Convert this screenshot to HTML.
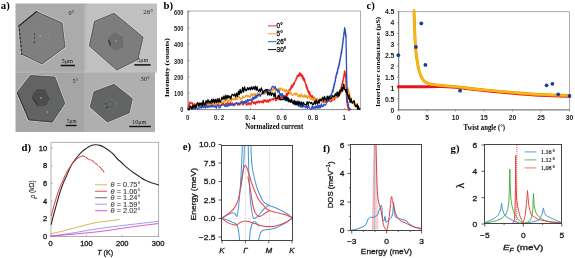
<!DOCTYPE html>
<html><head><meta charset="utf-8"><title>figure</title>
<style>
html,body{margin:0;padding:0;background:#fff;width:575px;height:258px;overflow:hidden;}
svg{display:block;will-change:transform;font-family:"Liberation Sans",sans-serif;}
</style></head><body>
<svg width="575" height="258" viewBox="0 0 575 258">
<defs><linearGradient id="g2" x1="0" x2="1" y1="0" y2="0"><stop offset="0" stop-color="#b4b4b4"/><stop offset="1" stop-color="#c0c0c0"/></linearGradient><filter id="soft" x="0" y="0" width="1" height="1"><feGaussianBlur stdDeviation="0.35"/></filter></defs>
<rect x="0" y="0" width="575" height="258" fill="#fff"/>
<g filter="url(#soft)">
<rect x="15.5" y="3.5" width="68.5" height="68.5" fill="#ababab"/>
<rect x="84" y="3.5" width="73" height="68" fill="#c0c0c0"/>
<rect x="15.5" y="72" width="68.5" height="60" fill="#a5a5a5"/>
<rect x="84" y="71.5" width="71" height="60.5" fill="#afafaf"/>
<polygon points="36.5,11.6 62,23 65,47 42,64 21.75,54.2 18.7,26" fill="none" stroke="#d2d2d2" stroke-width="2.2" stroke-linejoin="round"/>
<polygon points="114.2,13.2 143.1,37.2 137.8,59.5 116.8,70 89.4,46 94.5,21.4" fill="none" stroke="#d2d2d2" stroke-width="2.2" stroke-linejoin="round"/>
<polygon points="30.3,75.4 54.9,77 64.9,103.4 52.5,122 28.7,119.8 17.1,92.5" fill="none" stroke="#d2d2d2" stroke-width="2.2" stroke-linejoin="round"/>
<polygon points="114.2,84.3 132.3,98.7 129.2,112.8 107.3,122.1 90.2,107.1 94.1,91.7" fill="none" stroke="#d2d2d2" stroke-width="2.2" stroke-linejoin="round"/>
<polygon points="36.5,11.6 62,23 65,47 42,64 21.75,54.2 18.7,26" fill="#7f7f7f" stroke="#454545" stroke-width="0.8"/>
<polygon points="114.2,13.2 143.1,37.2 137.8,59.5 116.8,70 89.4,46 94.5,21.4" fill="#7d7d7d" stroke="#454545" stroke-width="0.8"/>
<polygon points="30.3,75.4 54.9,77 64.9,103.4 52.5,122 28.7,119.8 17.1,92.5" fill="#626463" stroke="#454545" stroke-width="0.8"/>
<polygon points="114.2,84.3 132.3,98.7 129.2,112.8 107.3,122.1 90.2,107.1 94.1,91.7" fill="#636565" stroke="#454545" stroke-width="0.8"/>
<rect x="84" y="3.5" width="4" height="68" fill="url(#g2)"/>
<line x1="15.5" y1="72.1" x2="157" y2="72.1" stroke="#bcbcbc" stroke-width="0.9" />
<path d="M18.7,26 L36.5,11.6" stroke="#2a2a2a" stroke-width="1.3" fill="none" stroke-linejoin="round" stroke-linecap="round" />
<line x1="19.47" y1="29" x2="19.47" y2="31" stroke="#333" stroke-width="1.2" />
<line x1="19.83" y1="33" x2="19.83" y2="35" stroke="#333" stroke-width="1.2" />
<line x1="20.19" y1="37" x2="20.19" y2="39" stroke="#333" stroke-width="1.2" />
<line x1="20.55" y1="41" x2="20.55" y2="43" stroke="#333" stroke-width="1.2" />
<line x1="20.91" y1="45" x2="20.91" y2="47" stroke="#333" stroke-width="1.2" />
<line x1="21.27" y1="49" x2="21.27" y2="51" stroke="#333" stroke-width="1.2" />
<line x1="21.63" y1="53" x2="21.63" y2="55" stroke="#333" stroke-width="1.2" />
<line x1="17.4" y1="93" x2="28.9" y2="119.6" stroke="#262626" stroke-width="1.1" stroke-dasharray="1.6,0.9"/>
<line x1="29" y1="119.9" x2="52.4" y2="122" stroke="#3a3a3a" stroke-width="0.8" />
<polygon points="33.9,32.5 37.4,29.6 48.4,34.8 48.4,40.6 39,45 33.9,42" fill="#7f7f7f" stroke="#8c8c8c" stroke-width="0.5"/>
<line x1="34.5" y1="33.5" x2="34.5" y2="35.3" stroke="#3a3a3a" stroke-width="1.2" />
<line x1="34.5" y1="37" x2="34.5" y2="38.8" stroke="#3a3a3a" stroke-width="1.2" />
<line x1="34.5" y1="41.3" x2="34.5" y2="43.1" stroke="#3a3a3a" stroke-width="1.2" />
<circle cx="40.3" cy="36" r="0.7" fill="#b0b0b0"/>
<polygon points="108.5,38 115,32.8 122.5,37.5 123,46.5 116,50 109.5,46" fill="#6e6e6e" stroke="#606060" stroke-width="0.5"/>
<line x1="108.5" y1="40" x2="110.5" y2="45" stroke="#2e2e2e" stroke-width="1.1" />
<circle cx="115.8" cy="41" r="0.7" fill="#b4b4b4"/>
<polygon points="37,89.6 44.6,89.8 49.3,99.1 45.8,104.9 37,106.1 31.8,96.2" fill="#4e4e4e" stroke="#444" stroke-width="0.6"/>
<line x1="32.5" y1="97.5" x2="37.5" y2="104.5" stroke="#333" stroke-width="1.1" />
<circle cx="40.9" cy="98" r="1" fill="#8a8a8a"/>
<circle cx="47.5" cy="111.9" r="0.7" fill="#bbb"/>
<polygon points="104.9,102.8 109.5,98.7 116.5,101.6 116.5,107.4 111.3,109.8 105.5,107.4" fill="#606262" stroke="#7a7a7a" stroke-width="0.5"/>
<circle cx="105.7" cy="103.7" r="0.8" fill="#2a2a2a"/>
<circle cx="106.9" cy="107.4" r="0.8" fill="#2a2a2a"/>
<circle cx="110.7" cy="104" r="0.7" fill="#8a8a8a"/>
<circle cx="115.3" cy="103" r="0.6" fill="#8a8a8a"/>
</g>
<text x="68.5" y="14.5" font-size="6.2" font-family="Liberation Serif, serif" text-anchor="start" font-weight="normal" font-style="normal" fill="#2a2a2a" >0°</text>
<text x="143.3" y="13.7" font-size="7" font-family="Liberation Serif, serif" text-anchor="start" font-weight="normal" font-style="normal" fill="#2a2a2a" >26°</text>
<text x="72.5" y="82.5" font-size="6" font-family="Liberation Serif, serif" text-anchor="start" font-weight="normal" font-style="normal" fill="#2a2a2a" >5°</text>
<text x="140.6" y="81" font-size="6.5" font-family="Liberation Serif, serif" text-anchor="start" font-weight="normal" font-style="normal" fill="#2a2a2a" >30°</text>
<line x1="60.7" y1="65.5" x2="75" y2="65.5" stroke="#111" stroke-width="1.5" />
<text x="61.5" y="62.6" font-size="6.4" font-family="Liberation Serif, serif" text-anchor="start" font-weight="normal" font-style="normal" fill="#1a1a1a" >5μm</text>
<line x1="134.3" y1="64.9" x2="150.6" y2="64.9" stroke="#111" stroke-width="1.5" />
<text x="137.2" y="61.6" font-size="6" font-family="Liberation Serif, serif" text-anchor="start" font-weight="normal" font-style="normal" fill="#1a1a1a" >5μm</text>
<line x1="65.7" y1="125.5" x2="76.6" y2="125.5" stroke="#111" stroke-width="1.4" />
<text x="67.1" y="122.9" font-size="5.2" font-family="Liberation Serif, serif" text-anchor="start" font-weight="normal" font-style="normal" fill="#1a1a1a" >5μm</text>
<line x1="129.2" y1="126.5" x2="150.9" y2="126.5" stroke="#111" stroke-width="1.4" />
<text x="132.1" y="123.7" font-size="6.2" font-family="Liberation Serif, serif" text-anchor="start" font-weight="normal" font-style="normal" fill="#1a1a1a" >10μm</text>
<text x="0.8" y="8.8" font-size="11.3" font-family="Liberation Serif, serif" text-anchor="start" font-weight="bold" font-style="normal" fill="#000"  textLength="8.94" lengthAdjust="spacingAndGlyphs">a)</text>
<text x="163.6" y="9.2" font-size="11.3" font-family="Liberation Serif, serif" text-anchor="start" font-weight="bold" font-style="normal" fill="#000"  textLength="9.55" lengthAdjust="spacingAndGlyphs">b)</text>
<text x="366.6" y="9.4" font-size="11.3" font-family="Liberation Serif, serif" text-anchor="start" font-weight="bold" font-style="normal" fill="#000"  textLength="8.34" lengthAdjust="spacingAndGlyphs">c)</text>
<text x="21.6" y="151.4" font-size="11.3" font-family="Liberation Serif, serif" text-anchor="start" font-weight="bold" font-style="normal" fill="#000"  textLength="9.55" lengthAdjust="spacingAndGlyphs">d)</text>
<text x="182.7" y="149.6" font-size="11.3" font-family="Liberation Serif, serif" text-anchor="start" font-weight="bold" font-style="normal" fill="#000"  textLength="8.34" lengthAdjust="spacingAndGlyphs">e)</text>
<text x="322.9" y="151.5" font-size="11.3" font-family="Liberation Serif, serif" text-anchor="start" font-weight="bold" font-style="normal" fill="#000"  textLength="7.15" lengthAdjust="spacingAndGlyphs">f)</text>
<text x="450.6" y="151.6" font-size="11.3" font-family="Liberation Serif, serif" text-anchor="start" font-weight="bold" font-style="normal" fill="#000"  textLength="8.94" lengthAdjust="spacingAndGlyphs">g)</text>
<rect x="188" y="11" width="172.5" height="98.6" fill="none" stroke="#9a9a9a" stroke-width="0.8"/>
<line x1="188" y1="11" x2="188" y2="109.6" stroke="#888" stroke-width="0.9" />
<line x1="188" y1="109.6" x2="360.5" y2="109.6" stroke="#888" stroke-width="0.9" />
<text x="183.4" y="112.4" font-size="7" font-family="Liberation Sans, sans-serif" text-anchor="end" font-weight="bold" font-style="normal" fill="#1a1a1a"  textLength="3.11" lengthAdjust="spacingAndGlyphs">0</text>
<line x1="188" y1="109.4" x2="189.5" y2="109.4" stroke="#666" stroke-width="0.7" />
<text x="183.4" y="96.1" font-size="7" font-family="Liberation Sans, sans-serif" text-anchor="end" font-weight="bold" font-style="normal" fill="#1a1a1a"  textLength="9.34" lengthAdjust="spacingAndGlyphs">100</text>
<line x1="188" y1="93.1" x2="189.5" y2="93.1" stroke="#666" stroke-width="0.7" />
<text x="183.4" y="79.8" font-size="7" font-family="Liberation Sans, sans-serif" text-anchor="end" font-weight="bold" font-style="normal" fill="#1a1a1a"  textLength="9.34" lengthAdjust="spacingAndGlyphs">200</text>
<line x1="188" y1="76.8" x2="189.5" y2="76.8" stroke="#666" stroke-width="0.7" />
<text x="183.4" y="63.5" font-size="7" font-family="Liberation Sans, sans-serif" text-anchor="end" font-weight="bold" font-style="normal" fill="#1a1a1a"  textLength="9.34" lengthAdjust="spacingAndGlyphs">300</text>
<line x1="188" y1="60.5" x2="189.5" y2="60.5" stroke="#666" stroke-width="0.7" />
<text x="183.4" y="47.2" font-size="7" font-family="Liberation Sans, sans-serif" text-anchor="end" font-weight="bold" font-style="normal" fill="#1a1a1a"  textLength="9.34" lengthAdjust="spacingAndGlyphs">400</text>
<line x1="188" y1="44.2" x2="189.5" y2="44.2" stroke="#666" stroke-width="0.7" />
<text x="183.4" y="30.9" font-size="7" font-family="Liberation Sans, sans-serif" text-anchor="end" font-weight="bold" font-style="normal" fill="#1a1a1a"  textLength="9.34" lengthAdjust="spacingAndGlyphs">500</text>
<line x1="188" y1="27.9" x2="189.5" y2="27.9" stroke="#666" stroke-width="0.7" />
<text x="183.4" y="14.6" font-size="7" font-family="Liberation Sans, sans-serif" text-anchor="end" font-weight="bold" font-style="normal" fill="#1a1a1a"  textLength="9.34" lengthAdjust="spacingAndGlyphs">600</text>
<line x1="188" y1="11.6" x2="189.5" y2="11.6" stroke="#666" stroke-width="0.7" />
<text x="187.8" y="120" font-size="7" font-family="Liberation Sans, sans-serif" text-anchor="middle" font-weight="bold" font-style="normal" fill="#1a1a1a"  textLength="3.43" lengthAdjust="spacingAndGlyphs">0</text>
<line x1="187.8" y1="109.6" x2="187.8" y2="108.1" stroke="#666" stroke-width="0.7" />
<text x="219.1" y="120" font-size="7" font-family="Liberation Sans, sans-serif" text-anchor="middle" font-weight="bold" font-style="normal" fill="#1a1a1a"  textLength="10.27" lengthAdjust="spacingAndGlyphs">0. 2</text>
<line x1="219.1" y1="109.6" x2="219.1" y2="108.1" stroke="#666" stroke-width="0.7" />
<text x="250.4" y="120" font-size="7" font-family="Liberation Sans, sans-serif" text-anchor="middle" font-weight="bold" font-style="normal" fill="#1a1a1a"  textLength="10.27" lengthAdjust="spacingAndGlyphs">0. 4</text>
<line x1="250.4" y1="109.6" x2="250.4" y2="108.1" stroke="#666" stroke-width="0.7" />
<text x="281.7" y="120" font-size="7" font-family="Liberation Sans, sans-serif" text-anchor="middle" font-weight="bold" font-style="normal" fill="#1a1a1a"  textLength="10.27" lengthAdjust="spacingAndGlyphs">0. 6</text>
<line x1="281.7" y1="109.6" x2="281.7" y2="108.1" stroke="#666" stroke-width="0.7" />
<text x="313" y="120" font-size="7" font-family="Liberation Sans, sans-serif" text-anchor="middle" font-weight="bold" font-style="normal" fill="#1a1a1a"  textLength="10.27" lengthAdjust="spacingAndGlyphs">0. 8</text>
<line x1="313" y1="109.6" x2="313" y2="108.1" stroke="#666" stroke-width="0.7" />
<text x="344.3" y="120" font-size="7" font-family="Liberation Sans, sans-serif" text-anchor="middle" font-weight="bold" font-style="normal" fill="#1a1a1a"  textLength="3.43" lengthAdjust="spacingAndGlyphs">1</text>
<line x1="344.3" y1="109.6" x2="344.3" y2="108.1" stroke="#666" stroke-width="0.7" />
<text transform="translate(167.1,67.7) scale(0.88,1) rotate(-90)" x="0" y="0" font-size="7.9" font-family="Liberation Serif, serif" text-anchor="middle" dominant-baseline="central" font-weight="bold" font-style="normal" fill="#000" >Intensity (counts)</text>
<text x="274.2" y="129.2" font-size="7.8" font-family="Liberation Serif, serif" text-anchor="middle" font-weight="bold" font-style="normal" fill="#000"  textLength="58.01" lengthAdjust="spacingAndGlyphs">Normalized current</text>
<path d="M188,109 L188.29,109.18 L188.57,105.76 L188.86,106.62 L189.15,104.5 L189.44,102.95 L189.73,104.68 L190.01,101.92 L190.3,102.23 L190.94,102.71 L191.58,103.37 L192.22,102.63 L192.86,105.82 L193.5,104.33 L194.41,103.65 L195.33,106.68 L196.24,105.35 L197.16,104.21 L198.07,106.12 L198.99,103.36 L199.9,105.44 L200.81,105.79 L201.73,103.51 L202.64,105.76 L203.56,103.32 L204.47,102.94 L205.39,105.72 L206.3,103.37 L207.23,105.33 L208.15,103.82 L209.08,106.33 L210,104.27 L210.93,103.64 L211.86,105.36 L212.78,103.65 L213.71,105.13 L214.63,103.91 L215.56,104.98 L216.49,103.61 L217.41,104.95 L218.34,103.76 L219.27,105.54 L220.19,105.52 L221.12,105.02 L222.04,105.29 L222.97,102.81 L223.9,103.91 L224.82,105.83 L225.75,103.5 L226.67,104.67 L227.6,102.32 L228.53,103.02 L229.46,104.99 L230.39,102.44 L231.32,104.77 L232.25,102.9 L233.18,104.74 L234.11,105.67 L235.04,103.06 L235.97,103.04 L236.9,102.65 L237.83,105.22 L238.77,102.92 L239.7,105.11 L240.63,103.07 L241.56,102.59 L242.49,104.62 L243.42,104.77 L244.35,101.72 L245.28,101.92 L246.21,104.69 L247.14,104.96 L248.07,102.43 L249,104.8 L249.94,102.79 L250.89,104.85 L251.83,101.26 L252.78,101.71 L253.72,103.76 L254.67,101.78 L255.61,104.4 L256.56,101.3 L257.5,102.97 L258.44,100.81 L259.38,102.85 L260.31,101.08 L261.25,102.4 L262.19,100.8 L263.12,103.03 L264.06,99.55 L265,101.63 L265.91,99.97 L266.82,102.25 L267.73,99.94 L268.64,102.32 L269.55,99.41 L270.45,100.85 L271.36,99.28 L272.27,98.68 L273.18,100.27 L274.09,98.17 L275,98.54 L275.93,100.73 L276.85,99.53 L277.78,97.03 L278.71,99.72 L279.64,96.21 L280.56,99.24 L281.49,96.09 L282.42,98.48 L283.35,96.24 L284.27,97.57 L285.2,95.84 L285.73,97.47 L286.27,93.33 L286.8,95.37 L287.33,95.41 L287.87,92.36 L288.4,93.86 L288.93,89.89 L289.47,92.05 L290,89 L290.45,90.18 L290.9,86.83 L291.35,88.34 L291.8,85.01 L292.25,86.54 L292.7,87.01 L293.15,85.42 L293.61,82.84 L294.06,84.57 L294.52,82.76 L294.97,81.67 L295.43,80.05 L295.88,80.26 L296.34,78 L296.79,78.68 L297.25,75.52 L297.7,76.94 L298.35,74.58 L299,76.33 L299.65,72.93 L300.3,75.25 L300.83,73.28 L301.36,76.37 L301.89,74.62 L302.41,78.6 L302.94,75.86 L303.47,80.11 L304,77.97 L304.29,81.17 L304.58,79.08 L304.88,82.08 L305.17,81.97 L305.46,83.74 L305.75,83.66 L306.05,86.4 L306.34,87.79 L306.63,85 L306.92,88.42 L307.22,89.66 L307.51,87.9 L307.8,91.51 L308.28,90.34 L308.75,93.18 L309.23,94.54 L309.7,91.65 L310.18,95.07 L310.65,96.32 L311.12,95.41 L311.6,97.71 L312.36,95.72 L313.12,99.02 L313.88,97.19 L314.64,98.52 L315.4,101.73 L316.36,99.59 L317.32,101.61 L318.28,100.19 L319.24,102.71 L320.2,100.24 L321.16,101.66 L322.12,99.9 L323.08,102.57 L324.04,100.22 L325,102.45 L326,99.48 L327,102.29 L328,100.27 L329,101.38 L330,99.52 L331,102.03 L332,99.11 L332.83,100.48 L333.67,97.64 L334.5,99.9 L335.33,97.24 L336.17,95.62 L337,97.64 L337.53,95.41 L338.07,94.7 L338.6,96 L339.13,92.59 L339.67,94.92 L340.2,90.5 L340.43,92.46 L340.66,88.97 L340.89,90.25 L341.12,87.09 L341.35,89.03 L341.58,85.25 L341.82,86.63 L342.05,83.12 L342.28,84.9 L342.51,84.74 L342.74,80.41 L342.97,81.99 L343.2,79.19 L343.34,79.75 L343.48,77.53 L343.62,78.04 L343.76,77.52 L343.9,74.36 L344.04,74.14 L344.18,75.52 L344.32,74.72 L344.46,71.07 L344.6,72.86 L344.77,70.88 L344.94,73.88 L345.11,72.34 L345.29,76.42 L345.46,74.45 L345.63,75.74 L345.8,78.51 L345.83,78.1 L345.87,80.45 L345.9,82.05 L345.93,80.14 L345.97,81.51 L346,85.32 L346.03,82.83 L346.07,87.09 L346.1,85.1 L346.13,86.64 L346.17,89.87 L346.2,88.02 L346.23,91.53 L346.27,92.42 L346.3,91.16 L346.33,93.47 L346.37,91.96 L346.4,96.05 L346.43,93.83 L346.47,97.25 L346.5,99.21 L346.53,99.17 L346.57,97.99 L346.6,101.55 L346.78,99.68 L346.96,100.58 L347.13,104.53 L347.31,103.26 L347.49,106.13 L347.67,105.18 L347.84,107.61 L348.02,106.26 L348.2,109.59 L349.1,110.66 L350,109.4" stroke="#ee2222" stroke-width="1.3" fill="none" stroke-linejoin="round" stroke-linecap="round" />
<path d="M188,109.4 L188.86,110.12 L189.71,106.72 L190.57,109.41 L191.42,107.1 L192.28,108.81 L193.13,106.45 L193.99,107.15 L194.84,107.71 L195.7,103.83 L196.65,104.25 L197.61,106.24 L198.56,104.23 L199.51,106.08 L200.47,104.82 L201.42,106.26 L202.37,106.28 L203.33,103.75 L204.28,105.97 L205.23,102.74 L206.19,102.88 L207.14,105.42 L208.09,103.55 L209.05,105.93 L210,102.45 L210.94,105.96 L211.88,104.25 L212.81,101.82 L213.75,105.47 L214.69,102.81 L215.62,104.8 L216.56,102.44 L217.5,104.74 L218.44,102.04 L219.38,103.01 L220.31,100.6 L221.25,103.39 L222.19,101.22 L223.12,102.36 L224.06,100.99 L225,102.14 L225.9,99.22 L226.8,100.06 L227.7,99.98 L228.6,102.26 L229.5,99.71 L230.4,99.3 L231.3,101.45 L232.2,98.71 L233.1,99.9 L234,98.34 L234.9,99.9 L235.8,96.75 L236.7,99.77 L237.6,98.92 L238.5,96.15 L239.41,97.02 L240.31,99.22 L241.22,98.17 L242.13,99.09 L243.03,96.03 L243.94,97.38 L244.85,97.52 L245.75,95.75 L246.66,95.03 L247.57,96.88 L248.47,95.51 L249.38,97.13 L250.29,97.04 L251.19,93.61 L252.1,95.73 L253,93.99 L253.9,95.58 L254.8,93.38 L255.7,95.48 L256.6,96.27 L257.5,92.59 L258.4,94.52 L259.3,93.27 L260.2,91.98 L261.1,92.87 L262,94.27 L262.9,91.99 L263.8,92.18 L264.7,94.08 L265.6,93.88 L266.51,90.37 L267.43,90.82 L268.34,93.37 L269.26,92.34 L270.17,89.23 L271.09,92.16 L272,89.17 L272.89,90.86 L273.78,88.18 L274.67,88.43 L275.56,91.41 L276.44,88.56 L277.33,88.97 L278.22,89.78 L279.11,88 L280,90.52 L281,87.88 L282,88.71 L283,90.66 L284,89.32 L285,92.15 L285.83,89.61 L286.67,90.21 L287.5,92.27 L288.33,90.28 L289.17,90.57 L290,94.13 L290.94,92.41 L291.87,94.99 L292.81,95.02 L293.75,94.55 L294.68,92.82 L295.62,94.91 L296.55,92.99 L297.49,95.52 L298.43,96.82 L299.36,94.55 L300.3,97.1 L301.21,94 L302.12,96.67 L303.03,95.58 L303.94,97.37 L304.85,94.75 L305.75,97.34 L306.66,95.55 L307.57,98.6 L308.48,95.74 L309.39,96.17 L310.3,99.06 L311.25,97.8 L312.2,100.07 L313.15,98 L314.1,100.67 L315.05,98.08 L316,100.8 L316.95,98.24 L317.9,102.29 L318.95,99.74 L320,101.7 L320.93,101.15 L321.86,98.19 L322.79,101.75 L323.72,98.24 L324.65,101.09 L325.58,100.8 L326.52,98.48 L327.45,97.1 L328.38,97.66 L329.31,99.67 L330.24,100.38 L331.17,97.92 L332.1,99.58 L332.91,96.62 L333.72,98.99 L334.53,95.12 L335.34,97.24 L336.15,95.18 L336.96,96.53 L337.77,93.06 L338.58,96.21 L339.39,91.88 L340.2,94.05 L340.7,91.63 L341.2,93.1 L341.7,89.12 L342.2,90.96 L342.7,87.5 L343.2,87.71 L343.7,85.68 L344.2,88.14 L344.7,84.75 L345.2,86.57 L345.7,84.08 L346.2,87.91 L346.7,89 L347.2,87.03 L347.7,90.63 L348.2,88.27 L348.47,90.29 L348.75,92.64 L349.02,91.25 L349.29,92.71 L349.56,95.5 L349.84,93.83 L350.11,98.27 L350.38,96.83 L350.65,99.96 L350.93,98.41 L351.2,100.87 L351.79,100.43 L352.37,102.56 L352.96,101.24 L353.54,104.22 L354.13,102.7 L354.71,105.4 L355.3,103.98 L356.1,107.76 L356.9,104.83 L357.7,108.79 L358.5,109.64 L359.3,108.4" stroke="#f59a1a" stroke-width="1.3" fill="none" stroke-linejoin="round" stroke-linecap="round" />
<path d="M188,109.4 L188.85,109.82 L189.7,107.28 L190.55,107.69 L191.4,108.6 L192.33,106.4 L193.26,108.99 L194.19,106.87 L195.12,109.25 L196.06,107.1 L196.99,108 L197.92,108.91 L198.85,108.84 L199.78,105.28 L200.71,107.77 L201.64,108.02 L202.58,105.56 L203.51,107.63 L204.44,105.74 L205.37,108.13 L206.3,104.52 L207.22,107.62 L208.14,105.82 L209.05,107.45 L209.97,105.71 L210.89,107.17 L211.81,105.1 L212.73,106.98 L213.65,105.66 L214.56,107.08 L215.48,105.91 L216.4,108.23 L217.36,104.84 L218.31,105.78 L219.27,107.74 L220.22,107.4 L221.18,104.95 L222.13,104.14 L223.09,105.09 L224.04,104.74 L225,106.19 L225.9,106.76 L226.8,104.62 L227.7,106.44 L228.6,104.11 L229.5,105.8 L230.4,104.13 L231.3,105.17 L232.2,103.99 L233.1,105.57 L234,103.76 L234.9,104.96 L235.8,103.54 L236.7,103.22 L237.6,104.43 L238.5,103 L239.41,104.16 L240.31,103.33 L241.22,101.53 L242.13,101.21 L243.03,103.5 L243.94,101.39 L244.85,103.3 L245.75,100.49 L246.66,102.65 L247.57,99.43 L248.47,101.17 L249.38,99.45 L250.29,100.3 L251.19,99.07 L252.1,100.59 L252.87,97.24 L253.64,99.41 L254.41,96.91 L255.19,98.34 L255.96,95.11 L256.73,97.93 L257.5,94.96 L258.4,95.85 L259.3,94.1 L260.2,96.36 L261.1,94.71 L262,93.31 L262.9,92.63 L263.72,91.69 L264.54,92.69 L265.36,90 L266.18,92.21 L267,89.6 L268,89.3 L269,90.89 L270,90.17 L271,89.55 L272.17,86.91 L273.33,86.22 L274.5,88.29 L275.33,86.69 L276.17,89.74 L277,90.33 L277.5,89.79 L278,92.48 L278.5,90.28 L279,90.6 L279.5,92.22 L280,95.65 L280.78,93.67 L281.57,95.53 L282.35,93.58 L283.14,96.76 L283.92,95.4 L284.71,97.38 L285.49,96.56 L286.28,97.18 L287.06,96.75 L287.85,100.81 L288.63,98.3 L289.42,100.99 L290.2,101.6 L291.04,99.87 L291.88,101.9 L292.73,101.22 L293.57,101.42 L294.41,103.76 L295.25,101.17 L296.09,104.49 L296.93,104.44 L297.77,102.78 L298.62,106.4 L299.46,103.29 L300.3,107.06 L301.21,105.12 L302.12,107.55 L303.03,104.83 L303.94,106.88 L304.85,105.91 L305.75,108.03 L306.66,105.96 L307.57,108.3 L308.48,105.27 L309.39,107.75 L310.3,109.2 L311.26,108.99 L312.23,105.82 L313.19,108.53 L314.15,106.62 L315.11,108.44 L316.07,105.74 L317.04,108.21 L318,105.29 L318.88,108.27 L319.75,105.05 L320.62,107.75 L321.5,103.77 L322.38,106.65 L323.25,106.32 L324.12,104.05 L325,105.21 L325.62,105 L326.25,103.71 L326.88,100.64 L327.5,101.6 L328.12,99.72 L328.75,100.39 L329.38,99.47 L330,98.83 L330.34,95.27 L330.69,96.82 L331.03,94.92 L331.38,95.24 L331.72,93.26 L332.07,93.25 L332.41,90.69 L332.76,89.68 L333.1,91.64 L333.29,87.64 L333.48,88.9 L333.66,86.39 L333.85,88.24 L334.04,84.34 L334.23,85.93 L334.41,83.22 L334.6,84.37 L334.79,83.07 L334.98,80.86 L335.16,81.13 L335.35,81.47 L335.54,77.14 L335.73,78.71 L335.91,75.93 L336.1,77.55 L336.34,74.15 L336.58,74.97 L336.82,72.38 L337.05,74.1 L337.29,70.91 L337.53,72.14 L337.77,68.56 L338.01,69.04 L338.25,66.97 L338.48,68.55 L338.72,64.93 L338.96,66.45 L339.2,62.49 L339.38,64.42 L339.55,63.76 L339.72,59.69 L339.9,61.54 L340.07,60.73 L340.25,58.08 L340.43,58.47 L340.6,55.83 L340.77,56.72 L340.95,56.1 L341.12,52.32 L341.3,54.17 L341.48,50.58 L341.65,52.87 L341.82,48.99 L342,50.05 L342.11,47.23 L342.23,47 L342.34,48.02 L342.46,43.92 L342.57,46.21 L342.69,42.49 L342.8,43.79 L342.91,43.37 L343.03,39.92 L343.14,41.46 L343.26,37.61 L343.37,39.15 L343.49,37.81 L343.6,36.81 L343.75,36.6 L343.9,32.55 L344.05,34.53 L344.2,30.81 L344.35,32.17 L344.5,29.43 L344.65,27.77 L344.8,28.93 L344.95,30.16 L345.1,29.31 L345.25,30.82 L345.4,33.87 L345.55,32.14 L345.7,35.79 L345.85,36.72 L346,35 L346.01,38.31 L346.03,36.66 L346.04,40.23 L346.06,38.74 L346.07,41.31 L346.09,40.33 L346.1,41.32 L346.11,43.05 L346.13,45.91 L346.14,44.89 L346.16,47.57 L346.17,45.85 L346.19,48.73 L346.2,47.99 L346.21,51.39 L346.23,50.14 L346.24,53.43 L346.26,51.77 L346.27,55.14 L346.29,55.44 L346.3,54.49 L346.31,57.29 L346.33,55.8 L346.34,58.71 L346.36,57.98 L346.37,60.91 L346.39,59.65 L346.4,62.59 L346.42,63.96 L346.44,62.09 L346.46,65.67 L346.48,64.26 L346.5,65.91 L346.51,69.19 L346.53,66.92 L346.55,70.76 L346.57,71.1 L346.59,70.21 L346.61,70.49 L346.63,71.23 L346.65,75.68 L346.67,73.51 L346.69,76.94 L346.7,75.78 L346.72,76.49 L346.74,79.09 L346.76,78.36 L346.78,81.08 L346.8,82.25 L346.82,81.03 L346.84,84.28 L346.86,83.32 L346.88,86.2 L346.9,83.89 L346.91,87.25 L346.93,85.94 L346.95,89.95 L346.97,87.59 L346.99,92.11 L347.01,90.57 L347.03,93.64 L347.05,92.25 L347.07,92.75 L347.09,95.36 L347.1,96.21 L347.12,95.73 L347.14,95.92 L347.16,97.14 L347.18,100.89 L347.2,98.48 L347.42,100.72 L347.64,102.85 L347.87,101.29 L348.09,104.73 L348.31,104.32 L348.53,107.07 L348.76,107.17 L348.98,108.04 L349.2,107.51 L350.1,109.42 L351,109.4" stroke="#2a4fc0" stroke-width="1.3" fill="none" stroke-linejoin="round" stroke-linecap="round" />
<path d="M188.2,109.4 L189.15,109.6 L190.1,106.18 L191.05,106.43 L192,109.2 L193,105.29 L194,107.52 L195,104.77 L195.9,107.83 L196.8,103.76 L197.7,102.58 L198.6,105.99 L199.51,103.06 L200.43,104.61 L201.34,102.81 L202.26,106.09 L203.17,100.35 L204.09,104.84 L205,104.8 L206,100.66 L207,103.35 L208,99.7 L209,103.05 L210,100.85 L210.91,103.42 L211.83,99.19 L212.74,102.62 L213.66,99.05 L214.57,102.85 L215.49,99.32 L216.4,102.56 L217.32,98.91 L218.24,102.21 L219.16,98.46 L220.08,102.34 L221,100.31 L222,97.11 L223,99.5 L224,95.88 L225,99.54 L225.97,95.22 L226.94,98.81 L227.91,95.29 L228.89,98.08 L229.86,95.99 L230.83,99.08 L231.8,94.81 L232.76,94.28 L233.71,95.92 L234.67,93.92 L235.63,97.09 L236.59,93.1 L237.54,96.47 L238.5,91.23 L239.32,94.62 L240.14,89.43 L240.96,93.1 L241.78,92.08 L242.6,87.29 L243.57,92.06 L244.54,86.93 L245.51,90.43 L246.49,90.7 L247.46,87.71 L248.43,89.64 L249.4,87.52 L250.37,89.95 L251.34,86.96 L252.31,89.49 L253.29,86.83 L254.26,89.39 L255.23,86.13 L256.2,90.36 L257.05,86.67 L257.9,90.4 L258.75,91.46 L259.6,89.14 L260.45,91.33 L261.3,87.9 L262.15,90.23 L263,93.95 L263.96,90.81 L264.91,90.36 L265.87,89.64 L266.83,89.8 L267.79,95.07 L268.74,92.15 L269.7,95.18 L270.58,92.07 L271.47,95.64 L272.35,93.08 L273.23,93.52 L274.12,96.97 L275,92.51 L275.85,98.39 L276.7,98.51 L277.55,97.7 L278.4,95.23 L279.25,96.26 L280.1,99.9 L280.95,99.66 L281.8,99.57 L282.65,99.7 L283.5,99.18 L284.35,96.93 L285.2,100.61 L286.11,96.72 L287.02,100.8 L287.93,97.65 L288.84,101.91 L289.75,100 L290.65,102.26 L291.56,99.03 L292.47,102.63 L293.38,104.02 L294.29,100.48 L295.2,104.92 L296.12,101.44 L297.04,105.22 L297.95,100.9 L298.87,104.48 L299.79,101.71 L300.71,104.79 L301.63,101.88 L302.55,105.68 L303.46,102.36 L304.38,104.21 L305.3,104.58 L306.22,105.11 L307.14,101.58 L308.05,104.91 L308.97,101.83 L309.89,102.22 L310.81,103.74 L311.73,102.37 L312.65,104.91 L313.56,104.24 L314.48,101.32 L315.4,104.24 L316.17,99.91 L316.93,103.22 L317.7,104.15 L318.47,100.24 L319.23,102.89 L320,98.79 L320.91,100.39 L321.82,100.41 L322.73,97.23 L323.64,101.19 L324.55,96.38 L325.45,99.17 L326.36,100.61 L327.27,96.1 L328.18,99.52 L329.09,96.12 L330,98.15 L330.9,98.93 L331.8,97.37 L332.7,95.54 L333.6,97.04 L334.5,96.43 L335.4,93.69 L336.3,95.67 L337.2,91.9 L338.1,96.87 L338.65,92.39 L339.21,95.57 L339.76,90.11 L340.32,92.93 L340.87,89.92 L341.43,90.99 L341.98,87.44 L342.54,91.04 L343.09,89.19 L343.65,84.22 L344.2,87.53 L344.57,88.9 L344.95,90.11 L345.32,89.77 L345.7,91.52 L346.07,89.4 L346.45,92.75 L346.82,89.7 L347.2,94.4 L347.57,93.16 L347.95,96.18 L348.32,95.34 L348.7,98.84 L349.07,95.1 L349.45,99.6 L349.82,100.5 L350.2,102.69 L351.02,98.24 L351.84,102.78 L352.66,103.07 L353.48,101.23 L354.3,100.72 L354.87,105.02 L355.44,106.41 L356.01,106.18 L356.59,106.46 L357.16,103.95 L357.73,109.41 L358.3,105.89 L359.15,109.48 L360,109" stroke="#000" stroke-width="1.25" fill="none" stroke-linejoin="round" stroke-linecap="round" />
<line x1="268" y1="25.9" x2="276.3" y2="25.9" stroke="#ee3333" stroke-width="1" />
<text x="276.6" y="28.2" font-size="6.4" font-family="Liberation Sans, sans-serif" text-anchor="start" font-weight="normal" font-style="normal" fill="#111"  stroke="#111" stroke-width="0.3">0°</text>
<line x1="268" y1="33.8" x2="276.3" y2="33.8" stroke="#f5a030" stroke-width="1" />
<text x="276.6" y="36.1" font-size="6.4" font-family="Liberation Sans, sans-serif" text-anchor="start" font-weight="normal" font-style="normal" fill="#111"  stroke="#111" stroke-width="0.3">5°</text>
<line x1="268" y1="41.7" x2="276.3" y2="41.7" stroke="#3355cc" stroke-width="1" />
<text x="276.6" y="44" font-size="6.4" font-family="Liberation Sans, sans-serif" text-anchor="start" font-weight="normal" font-style="normal" fill="#111"  stroke="#111" stroke-width="0.3">26°</text>
<line x1="268" y1="49.6" x2="276.3" y2="49.6" stroke="#111" stroke-width="1" />
<text x="276.6" y="51.9" font-size="6.4" font-family="Liberation Sans, sans-serif" text-anchor="start" font-weight="normal" font-style="normal" fill="#111"  stroke="#111" stroke-width="0.3">30°</text>
<rect x="398.7" y="11.7" width="170.7" height="98.14999999999999" fill="none" stroke="#999" stroke-width="0.8"/>
<line x1="398.7" y1="11.7" x2="398.7" y2="109.85" stroke="#777" stroke-width="0.9" />
<line x1="398.7" y1="109.85" x2="569.4" y2="109.85" stroke="#777" stroke-width="0.9" />
<text x="394.4" y="112.6" font-size="7" font-family="Liberation Sans, sans-serif" text-anchor="end" font-weight="bold" font-style="normal" fill="#1a1a1a"  textLength="3.78" lengthAdjust="spacingAndGlyphs">0</text>
<line x1="398.7" y1="109.9" x2="397.2" y2="109.9" stroke="#666" stroke-width="0.7" />
<text x="394.4" y="101.69" font-size="7" font-family="Liberation Sans, sans-serif" text-anchor="end" font-weight="bold" font-style="normal" fill="#1a1a1a"  textLength="9.44" lengthAdjust="spacingAndGlyphs">0.5</text>
<line x1="398.7" y1="98.99" x2="397.2" y2="98.99" stroke="#666" stroke-width="0.7" />
<text x="394.4" y="90.78" font-size="7" font-family="Liberation Sans, sans-serif" text-anchor="end" font-weight="bold" font-style="normal" fill="#1a1a1a"  textLength="3.78" lengthAdjust="spacingAndGlyphs">1</text>
<line x1="398.7" y1="88.08" x2="397.2" y2="88.08" stroke="#666" stroke-width="0.7" />
<text x="394.4" y="79.87" font-size="7" font-family="Liberation Sans, sans-serif" text-anchor="end" font-weight="bold" font-style="normal" fill="#1a1a1a"  textLength="9.44" lengthAdjust="spacingAndGlyphs">1.5</text>
<line x1="398.7" y1="77.17" x2="397.2" y2="77.17" stroke="#666" stroke-width="0.7" />
<text x="394.4" y="68.96" font-size="7" font-family="Liberation Sans, sans-serif" text-anchor="end" font-weight="bold" font-style="normal" fill="#1a1a1a"  textLength="3.78" lengthAdjust="spacingAndGlyphs">2</text>
<line x1="398.7" y1="66.26" x2="397.2" y2="66.26" stroke="#666" stroke-width="0.7" />
<text x="394.4" y="58.05" font-size="7" font-family="Liberation Sans, sans-serif" text-anchor="end" font-weight="bold" font-style="normal" fill="#1a1a1a"  textLength="9.44" lengthAdjust="spacingAndGlyphs">2.5</text>
<line x1="398.7" y1="55.35" x2="397.2" y2="55.35" stroke="#666" stroke-width="0.7" />
<text x="394.4" y="47.14" font-size="7" font-family="Liberation Sans, sans-serif" text-anchor="end" font-weight="bold" font-style="normal" fill="#1a1a1a"  textLength="3.78" lengthAdjust="spacingAndGlyphs">3</text>
<line x1="398.7" y1="44.44" x2="397.2" y2="44.44" stroke="#666" stroke-width="0.7" />
<text x="394.4" y="36.23" font-size="7" font-family="Liberation Sans, sans-serif" text-anchor="end" font-weight="bold" font-style="normal" fill="#1a1a1a"  textLength="9.44" lengthAdjust="spacingAndGlyphs">3.5</text>
<line x1="398.7" y1="33.53" x2="397.2" y2="33.53" stroke="#666" stroke-width="0.7" />
<text x="394.4" y="25.32" font-size="7" font-family="Liberation Sans, sans-serif" text-anchor="end" font-weight="bold" font-style="normal" fill="#1a1a1a"  textLength="3.78" lengthAdjust="spacingAndGlyphs">4</text>
<line x1="398.7" y1="22.62" x2="397.2" y2="22.62" stroke="#666" stroke-width="0.7" />
<text x="394.4" y="14.41" font-size="7" font-family="Liberation Sans, sans-serif" text-anchor="end" font-weight="bold" font-style="normal" fill="#1a1a1a"  textLength="9.44" lengthAdjust="spacingAndGlyphs">4.5</text>
<line x1="398.7" y1="11.71" x2="397.2" y2="11.71" stroke="#666" stroke-width="0.7" />
<text x="398.7" y="120" font-size="7" font-family="Liberation Sans, sans-serif" text-anchor="middle" font-weight="bold" font-style="normal" fill="#1a1a1a"  textLength="3.78" lengthAdjust="spacingAndGlyphs">0</text>
<line x1="398.7" y1="109.85" x2="398.7" y2="111.35" stroke="#666" stroke-width="0.7" />
<text x="427.15" y="120" font-size="7" font-family="Liberation Sans, sans-serif" text-anchor="middle" font-weight="bold" font-style="normal" fill="#1a1a1a"  textLength="3.78" lengthAdjust="spacingAndGlyphs">5</text>
<line x1="427.15" y1="109.85" x2="427.15" y2="111.35" stroke="#666" stroke-width="0.7" />
<text x="455.6" y="120" font-size="7" font-family="Liberation Sans, sans-serif" text-anchor="middle" font-weight="bold" font-style="normal" fill="#1a1a1a"  textLength="7.55" lengthAdjust="spacingAndGlyphs">10</text>
<line x1="455.6" y1="109.85" x2="455.6" y2="111.35" stroke="#666" stroke-width="0.7" />
<text x="484.05" y="120" font-size="7" font-family="Liberation Sans, sans-serif" text-anchor="middle" font-weight="bold" font-style="normal" fill="#1a1a1a"  textLength="7.55" lengthAdjust="spacingAndGlyphs">15</text>
<line x1="484.05" y1="109.85" x2="484.05" y2="111.35" stroke="#666" stroke-width="0.7" />
<text x="512.5" y="120" font-size="7" font-family="Liberation Sans, sans-serif" text-anchor="middle" font-weight="bold" font-style="normal" fill="#1a1a1a"  textLength="7.55" lengthAdjust="spacingAndGlyphs">20</text>
<line x1="512.5" y1="109.85" x2="512.5" y2="111.35" stroke="#666" stroke-width="0.7" />
<text x="540.95" y="120" font-size="7" font-family="Liberation Sans, sans-serif" text-anchor="middle" font-weight="bold" font-style="normal" fill="#1a1a1a"  textLength="7.55" lengthAdjust="spacingAndGlyphs">25</text>
<line x1="540.95" y1="109.85" x2="540.95" y2="111.35" stroke="#666" stroke-width="0.7" />
<text x="569.4" y="120" font-size="7" font-family="Liberation Sans, sans-serif" text-anchor="middle" font-weight="bold" font-style="normal" fill="#1a1a1a"  textLength="7.55" lengthAdjust="spacingAndGlyphs">30</text>
<line x1="569.4" y1="109.85" x2="569.4" y2="111.35" stroke="#666" stroke-width="0.7" />
<text transform="translate(378.3,61.9) scale(0.85,1) rotate(-90)" x="0" y="0" font-size="7.55" font-family="Liberation Serif, serif" text-anchor="middle" dominant-baseline="central" font-weight="bold" font-style="normal" fill="#000" >Interlayer conductance (μS)</text>
<text x="463.4" y="129.6" font-size="7.7" font-family="Liberation Serif, serif" text-anchor="start" font-weight="bold" font-style="normal" fill="#000"  textLength="41.73" lengthAdjust="spacingAndGlyphs">Twist angle (°)</text>
<path d="M398.4,86.7 C402,86.7 413.07,86.72 420,86.7 C426.93,86.68 434.67,86.57 440,86.6 C445.33,86.63 447.83,86.6 452,86.9 C456.17,87.2 460.33,87.87 465,88.4 C469.67,88.93 474.17,89.48 480,90.1 C485.83,90.72 493.67,91.5 500,92.1 C506.33,92.7 512.17,93.23 518,93.7 C523.83,94.17 530.17,94.6 535,94.9 C539.83,95.2 542.83,95.32 547,95.5 C551.17,95.68 556.25,95.88 560,96 C563.75,96.12 567.92,96.17 569.5,96.2" stroke="#e8141a" stroke-width="3" fill="none" stroke-linejoin="round" stroke-linecap="round" stroke-linecap="butt"/>
<path d="M414,10.8 C414.08,13.17 414.3,19.8 414.5,25 C414.7,30.2 414.92,37.17 415.2,42 C415.48,46.83 415.82,50.5 416.2,54 C416.58,57.5 417,60.17 417.5,63 C418,65.83 418.65,68.87 419.2,71 C419.75,73.13 420.25,74.47 420.8,75.8 C421.35,77.13 421.83,78.03 422.5,79 C423.17,79.97 423.95,80.9 424.8,81.6 C425.65,82.3 426.4,82.73 427.6,83.2 C428.8,83.67 430.2,84.07 432,84.4 C433.8,84.73 436.07,84.95 438.4,85.2 C440.73,85.45 443.28,85.67 446,85.9 C448.72,86.13 451.53,86.28 454.7,86.6 C457.87,86.92 460.78,87.32 465,87.8 C469.22,88.28 474.17,88.9 480,89.5 C485.83,90.1 493.67,90.82 500,91.4 C506.33,91.98 512.17,92.53 518,93 C523.83,93.47 530.17,93.9 535,94.2 C539.83,94.5 542.83,94.62 547,94.8 C551.17,94.98 556.25,95.18 560,95.3 C563.75,95.42 567.92,95.47 569.5,95.5" stroke="#e39a00" stroke-width="2.9" fill="none" stroke-linejoin="round" stroke-linecap="round" stroke-linecap="butt"/>
<path d="M414,10.8 C414.08,13.17 414.3,19.8 414.5,25 C414.7,30.2 414.92,37.17 415.2,42 C415.48,46.83 415.82,50.5 416.2,54 C416.58,57.5 417,60.17 417.5,63 C418,65.83 418.65,68.87 419.2,71 C419.75,73.13 420.25,74.47 420.8,75.8 C421.35,77.13 421.83,78.03 422.5,79 C423.17,79.97 423.95,80.9 424.8,81.6 C425.65,82.3 426.4,82.73 427.6,83.2 C428.8,83.67 430.2,84.07 432,84.4 C433.8,84.73 436.07,84.95 438.4,85.2 C440.73,85.45 443.28,85.67 446,85.9 C448.72,86.13 451.53,86.28 454.7,86.6 C457.87,86.92 460.78,87.32 465,87.8 C469.22,88.28 474.17,88.9 480,89.5 C485.83,90.1 493.67,90.82 500,91.4 C506.33,91.98 512.17,92.53 518,93 C523.83,93.47 530.17,93.9 535,94.2 C539.83,94.5 542.83,94.62 547,94.8 C551.17,94.98 556.25,95.18 560,95.3 C563.75,95.42 567.92,95.47 569.5,95.5" stroke="#fbb614" stroke-width="2" fill="none" stroke-linejoin="round" stroke-linecap="round" stroke-linecap="butt"/>
<circle cx="398.3" cy="55.2" r="1.9" fill="#1c3d96"/>
<circle cx="415.9" cy="47" r="1.9" fill="#1c3d96"/>
<circle cx="421.3" cy="23.4" r="1.9" fill="#1c3d96"/>
<circle cx="425.4" cy="64.9" r="1.9" fill="#1c3d96"/>
<circle cx="460.1" cy="90.7" r="1.9" fill="#1c3d96"/>
<circle cx="546.6" cy="85.3" r="1.9" fill="#1c3d96"/>
<circle cx="552.4" cy="83.8" r="1.9" fill="#1c3d96"/>
<circle cx="558.2" cy="94.3" r="1.9" fill="#1c3d96"/>
<circle cx="569.5" cy="96" r="1.9" fill="#1c3d96"/>
<rect x="51" y="142.3" width="107.6" height="94.19999999999999" fill="none" stroke="#a8a8a8" stroke-width="0.9"/>
<text x="47.1" y="239" font-size="6.8" font-family="Liberation Sans, sans-serif" text-anchor="end" font-weight="normal" font-style="normal" fill="#1a1a1a"  stroke="#1a1a1a" stroke-width="0.3" textLength="4.16" lengthAdjust="spacingAndGlyphs">0</text>
<line x1="51" y1="236.5" x2="52.8" y2="236.5" stroke="#999" stroke-width="0.7" />
<text x="47.1" y="221.3" font-size="6.8" font-family="Liberation Sans, sans-serif" text-anchor="end" font-weight="normal" font-style="normal" fill="#1a1a1a"  stroke="#1a1a1a" stroke-width="0.3" textLength="4.16" lengthAdjust="spacingAndGlyphs">2</text>
<line x1="51" y1="218.8" x2="52.8" y2="218.8" stroke="#999" stroke-width="0.7" />
<text x="47.1" y="203.6" font-size="6.8" font-family="Liberation Sans, sans-serif" text-anchor="end" font-weight="normal" font-style="normal" fill="#1a1a1a"  stroke="#1a1a1a" stroke-width="0.3" textLength="4.16" lengthAdjust="spacingAndGlyphs">4</text>
<line x1="51" y1="201.1" x2="52.8" y2="201.1" stroke="#999" stroke-width="0.7" />
<text x="47.1" y="185.9" font-size="6.8" font-family="Liberation Sans, sans-serif" text-anchor="end" font-weight="normal" font-style="normal" fill="#1a1a1a"  stroke="#1a1a1a" stroke-width="0.3" textLength="4.16" lengthAdjust="spacingAndGlyphs">6</text>
<line x1="51" y1="183.4" x2="52.8" y2="183.4" stroke="#999" stroke-width="0.7" />
<text x="47.1" y="168.2" font-size="6.8" font-family="Liberation Sans, sans-serif" text-anchor="end" font-weight="normal" font-style="normal" fill="#1a1a1a"  stroke="#1a1a1a" stroke-width="0.3" textLength="4.16" lengthAdjust="spacingAndGlyphs">8</text>
<line x1="51" y1="165.7" x2="52.8" y2="165.7" stroke="#999" stroke-width="0.7" />
<text x="47.1" y="150.5" font-size="6.8" font-family="Liberation Sans, sans-serif" text-anchor="end" font-weight="normal" font-style="normal" fill="#1a1a1a"  stroke="#1a1a1a" stroke-width="0.3" textLength="8.32" lengthAdjust="spacingAndGlyphs">10</text>
<line x1="51" y1="148" x2="52.8" y2="148" stroke="#999" stroke-width="0.7" />
<text x="50.6" y="245.8" font-size="6.8" font-family="Liberation Sans, sans-serif" text-anchor="middle" font-weight="normal" font-style="normal" fill="#1a1a1a"  stroke="#1a1a1a" stroke-width="0.3" textLength="4.16" lengthAdjust="spacingAndGlyphs">0</text>
<line x1="50.6" y1="236.5" x2="50.6" y2="234.7" stroke="#999" stroke-width="0.7" />
<text x="86.43" y="245.8" font-size="6.8" font-family="Liberation Sans, sans-serif" text-anchor="middle" font-weight="normal" font-style="normal" fill="#1a1a1a"  stroke="#1a1a1a" stroke-width="0.3" textLength="12.48" lengthAdjust="spacingAndGlyphs">100</text>
<line x1="86.43" y1="236.5" x2="86.43" y2="234.7" stroke="#999" stroke-width="0.7" />
<text x="122.26" y="245.8" font-size="6.8" font-family="Liberation Sans, sans-serif" text-anchor="middle" font-weight="normal" font-style="normal" fill="#1a1a1a"  stroke="#1a1a1a" stroke-width="0.3" textLength="12.48" lengthAdjust="spacingAndGlyphs">200</text>
<line x1="122.26" y1="236.5" x2="122.26" y2="234.7" stroke="#999" stroke-width="0.7" />
<text x="158.09" y="245.8" font-size="6.8" font-family="Liberation Sans, sans-serif" text-anchor="middle" font-weight="normal" font-style="normal" fill="#1a1a1a"  stroke="#1a1a1a" stroke-width="0.3" textLength="12.48" lengthAdjust="spacingAndGlyphs">300</text>
<line x1="158.09" y1="236.5" x2="158.09" y2="234.7" stroke="#999" stroke-width="0.7" />
<text transform="translate(31.8,189.4) scale(1,1) rotate(-90)" x="0" y="0" font-size="6.6" font-family="Liberation Sans, sans-serif" text-anchor="middle" dominant-baseline="central" font-weight="normal" font-style="normal" fill="#2a2a2a" stroke="#2a2a2a" stroke-width="0.15"><tspan font-style="italic">ρ</tspan> (kΩ)</text>
<text x="97.2" y="255" font-size="7.2" font-family="Liberation Sans, sans-serif" text-anchor="start" font-weight="normal" font-style="normal" fill="#1a1a1a"  stroke="#1a1a1a" stroke-width="0.3"><tspan font-style="italic">T</tspan> (K)</text>
<path d="M50.8,233.8 C52.75,233.35 58.67,232.03 62.5,231.1 C66.33,230.17 70.05,229.18 73.8,228.2 C77.55,227.22 81.25,226.15 85,225.2 C88.75,224.25 92.53,223.2 96.3,222.5 C100.07,221.8 104.98,221.33 107.6,221 C110.22,220.67 110.08,220.73 112,220.5 C113.92,220.27 117.92,219.75 119.1,219.6" stroke="#d6a94b" stroke-width="0.9" fill="none" stroke-linejoin="round" stroke-linecap="round" />
<path d="M50.8,236 C54,235.57 61.8,234.67 70,233.4 C78.2,232.13 91.25,229.72 100,228.4 C108.75,227.08 115.83,226.32 122.5,225.5 C129.17,224.68 134.07,224.18 140,223.5 C145.93,222.82 155.08,221.75 158.1,221.4" stroke="#8e8ef2" stroke-width="0.9" fill="none" stroke-linejoin="round" stroke-linecap="round" />
<path d="M50.8,236.2 C54,235.92 61.8,235.28 70,234.5 C78.2,233.72 91.25,232.55 100,231.5 C108.75,230.45 115.83,229.15 122.5,228.2 C129.17,227.25 134.07,226.57 140,225.8 C145.93,225.03 155.08,223.97 158.1,223.6" stroke="#dd44c8" stroke-width="0.9" fill="none" stroke-linejoin="round" stroke-linecap="round" />
<path d="M51.3,224.3 C51.58,223.08 52.3,219.72 53,217 C53.7,214.28 54.67,211 55.5,208 C56.33,205 57.13,202 58,199 C58.87,196 59.78,192.75 60.7,190 C61.62,187.25 62.53,184.85 63.5,182.5 C64.47,180.15 65.2,178.78 66.5,175.9 C67.8,173.02 69.68,168.12 71.3,165.2 C72.92,162.28 74.58,160.5 76.2,158.4 C77.82,156.3 79.38,154.22 81,152.6 C82.62,150.98 84.28,149.83 85.9,148.7 C87.52,147.57 89.1,146.45 90.7,145.8 C92.3,145.15 93.95,144.87 95.5,144.8 C97.05,144.73 98.58,145 100,145.4 C101.42,145.8 102.5,146.35 104,147.2 C105.5,148.05 107.47,149.37 109,150.5 C110.53,151.63 111.87,152.67 113.2,154 C114.53,155.33 115.53,157 117,158.5 C118.47,160 120.12,161.3 122,163 C123.88,164.7 126.3,167.03 128.3,168.7 C130.3,170.37 132.07,171.63 134,173 C135.93,174.37 138.07,175.73 139.9,176.9 C141.73,178.07 143.07,179.03 145,180 C146.93,180.97 149.23,181.87 151.5,182.7 C153.77,183.53 157.42,184.62 158.6,185" stroke="#2a2a2a" stroke-width="1.1" fill="none" stroke-linejoin="round" stroke-linecap="round" />
<path d="M51.3,215.8 C51.58,214.67 52.38,211.3 53,209 C53.62,206.7 54.25,204.5 55,202 C55.75,199.5 56.72,196.42 57.5,194 C58.28,191.58 58.68,190.03 59.7,187.5 C60.72,184.97 62.32,181.55 63.6,178.8 C64.88,176.05 66.12,173.27 67.4,171 C68.68,168.73 70,166.98 71.3,165.2 C72.6,163.42 73.9,161.6 75.2,160.3 C76.5,159 77.82,158.13 79.1,157.4 C80.38,156.67 82.27,156.15 82.9,155.9" stroke="#e23a3a" stroke-width="1" fill="none" stroke-linejoin="round" stroke-linecap="round" />
<path d="M82.9,155.9 L83.9,156.6 L84.9,156.48 L85.9,157.62 L86.87,157.56 L87.83,159.1 L88.8,159.28 L89.77,160.1 L90.73,159.5 L91.7,160.53 L92.65,160.45 L93.6,162.34 L94.55,162.41 L95.5,163.66 L96.4,163.48 L97.3,165.01 L98.2,165.76 L99.1,166.68 L100,166.82 L100.65,168.16 L101.3,168.26 L101.95,170.14 L102.6,169.91 L103.25,170.87 L103.9,172.2" stroke="#e23a3a" stroke-width="1" fill="none" stroke-linejoin="round" stroke-linecap="round" />
<line x1="95.1" y1="184.8" x2="107.1" y2="184.8" stroke="#d9b04e" stroke-width="0.9" />
<text x="110.6" y="187.4" font-size="7.4" font-family="Liberation Sans, sans-serif" text-anchor="start" font-weight="normal" font-style="normal" fill="#3a3a3a" stroke="#3a3a3a" stroke-width="0.1"><tspan font-style="italic">θ</tspan> = 0.75°</text>
<line x1="95.1" y1="191.28" x2="107.1" y2="191.28" stroke="#e23a3a" stroke-width="0.9" />
<text x="110.6" y="193.88" font-size="7.4" font-family="Liberation Sans, sans-serif" text-anchor="start" font-weight="normal" font-style="normal" fill="#3a3a3a" stroke="#3a3a3a" stroke-width="0.1"><tspan font-style="italic">θ</tspan> = 1.06°</text>
<line x1="95.1" y1="197.76" x2="107.1" y2="197.76" stroke="#555" stroke-width="0.9" />
<text x="110.6" y="200.36" font-size="7.4" font-family="Liberation Sans, sans-serif" text-anchor="start" font-weight="normal" font-style="normal" fill="#3a3a3a" stroke="#3a3a3a" stroke-width="0.1"><tspan font-style="italic">θ</tspan> = 1.24°</text>
<line x1="95.1" y1="204.24" x2="107.1" y2="204.24" stroke="#8e8ef2" stroke-width="0.9" />
<text x="110.6" y="206.84" font-size="7.4" font-family="Liberation Sans, sans-serif" text-anchor="start" font-weight="normal" font-style="normal" fill="#3a3a3a" stroke="#3a3a3a" stroke-width="0.1"><tspan font-style="italic">θ</tspan> = 1.59°</text>
<line x1="95.1" y1="210.72" x2="107.1" y2="210.72" stroke="#dd44c8" stroke-width="0.9" />
<text x="110.6" y="213.32" font-size="7.4" font-family="Liberation Sans, sans-serif" text-anchor="start" font-weight="normal" font-style="normal" fill="#3a3a3a" stroke="#3a3a3a" stroke-width="0.1"><tspan font-style="italic">θ</tspan> = 2.02°</text>
<line x1="245.5" y1="145.5" x2="245.5" y2="240.5" stroke="#e4e4e4" stroke-width="0.8" />
<line x1="269.5" y1="145.5" x2="269.5" y2="240.5" stroke="#e4e4e4" stroke-width="0.8" />
<line x1="221.5" y1="218.5" x2="292.5" y2="218.5" stroke="#dcdcdc" stroke-width="0.6" stroke-dasharray="1.2,1"/>
<clipPath id="ce"><rect x="221.5" y="145.5" width="71.0" height="95.0"/></clipPath>
<g clip-path="url(#ce)">
<path d="M221.9,218.3 C222.42,217.97 223.9,216.98 225,216.3 C226.1,215.62 227.25,214.8 228.5,214.2 C229.75,213.6 231.42,212.8 232.5,212.7 C233.58,212.6 234.3,212.97 235,213.6 C235.7,214.23 236.25,216.6 236.7,216.5 C237.15,216.4 237.38,214.75 237.7,213 C238.02,211.25 238.3,208.67 238.6,206 C238.9,203.33 239.2,200.33 239.5,197 C239.8,193.67 240.12,190.17 240.4,186 C240.68,181.83 240.95,176.67 241.2,172 C241.45,167.33 241.72,162.5 241.9,158 C242.08,153.5 242.23,147.17 242.3,145" stroke="#4b97d6" stroke-width="1.05" fill="none" stroke-linejoin="round" stroke-linecap="round" />
<path d="M221.9,218.3 C222.42,218.45 223.98,218.88 225,219.2 C226.02,219.52 226.6,219.63 228,220.2 C229.4,220.77 232.02,221.93 233.4,222.6 C234.78,223.27 235.55,223.38 236.3,224.2 C237.05,225.02 237.47,225.95 237.9,227.5 C238.33,229.05 238.62,231.25 238.9,233.5 C239.18,235.75 239.48,239.75 239.6,241" stroke="#4b97d6" stroke-width="1.05" fill="none" stroke-linejoin="round" stroke-linecap="round" />
<path d="M244.4,144 C244.33,146.33 244.2,153.67 244,158 C243.8,162.33 243.53,166.33 243.2,170 C242.87,173.67 242.42,177 242,180 C241.58,183 240.92,186.67 240.7,188" stroke="#4b97d6" stroke-width="1.05" fill="none" stroke-linejoin="round" stroke-linecap="round" />
<path d="M248.2,144 C248.25,146.67 248.37,154.33 248.5,160 C248.63,165.67 248.78,172.67 249,178 C249.22,183.33 249.5,187.67 249.8,192 C250.1,196.33 250.4,200.42 250.8,204 C251.2,207.58 251.72,211.12 252.2,213.5 C252.68,215.88 253.07,217.62 253.7,218.3 C254.33,218.98 255.18,218.07 256,217.6 C256.82,217.13 257.2,217.02 258.6,215.5 C260,213.98 262.63,210.2 264.4,208.5 C266.17,206.8 268.4,205.83 269.2,205.3" stroke="#4b97d6" stroke-width="1.05" fill="none" stroke-linejoin="round" stroke-linecap="round" />
<path d="M250.9,144 C250.98,146.33 251.08,153.5 251.4,158 C251.72,162.5 251.93,166.23 252.8,171 C253.67,175.77 255.48,182.77 256.6,186.6 C257.72,190.43 258.53,191.73 259.5,194 C260.47,196.27 261.4,198.62 262.4,200.2 C263.4,201.78 264.43,202.67 265.5,203.5 C266.57,204.33 267.05,204.45 268.8,205.2 C270.55,205.95 273.5,206.9 276,208 C278.5,209.1 281.08,210.2 283.8,211.8 C286.52,213.4 290.88,216.63 292.3,217.6" stroke="#4b97d6" stroke-width="1.05" fill="none" stroke-linejoin="round" stroke-linecap="round" />
<path d="M249.4,241 C249.55,239.33 249.92,233.67 250.3,231 C250.68,228.33 251.13,226.57 251.7,225 C252.27,223.43 252.93,221.97 253.7,221.6 C254.47,221.23 255.42,222.07 256.3,222.8 C257.18,223.53 258.55,225.47 259,226" stroke="#4b97d6" stroke-width="1.05" fill="none" stroke-linejoin="round" stroke-linecap="round" />
<path d="M258.4,241 C258.75,239.67 259.65,234.8 260.5,233 C261.35,231.2 262.42,230.77 263.5,230.2 C264.58,229.63 265.85,229.77 267,229.6 C268.15,229.43 268.9,229.52 270.4,229.2 C271.9,228.88 274.28,228.3 276,227.7 C277.72,227.1 278.87,226.55 280.7,225.6 C282.53,224.65 285.07,223.22 287,222 C288.93,220.78 291.42,218.92 292.3,218.3" stroke="#4b97d6" stroke-width="1.05" fill="none" stroke-linejoin="round" stroke-linecap="round" />
<path d="M221.9,218.3 C222.8,217.65 225.37,215.92 227.3,214.4 C229.23,212.88 231.9,211.05 233.5,209.2 C235.1,207.35 235.93,205.67 236.9,203.3 C237.87,200.93 238.63,198.05 239.3,195 C239.97,191.95 240.42,188.25 240.9,185 C241.38,181.75 241.75,178.17 242.2,175.5 C242.65,172.83 243.07,170.7 243.6,169 C244.13,167.3 244.78,165.3 245.4,165.3 C246.02,165.3 246.65,167.38 247.3,169 C247.95,170.62 248.55,172.58 249.3,175 C250.05,177.42 250.93,180.92 251.8,183.5 C252.67,186.08 253.37,187.83 254.5,190.5 C255.63,193.17 256.95,196.83 258.6,199.5 C260.25,202.17 262.63,204.65 264.4,206.5 C266.17,208.35 266.93,209.55 269.2,210.6 C271.47,211.65 275.25,212.1 278,212.8 C280.75,213.5 283.32,213.97 285.7,214.8 C288.08,215.63 291.2,217.3 292.3,217.8" stroke="#e2474b" stroke-width="1.05" fill="none" stroke-linejoin="round" stroke-linecap="round" />
<path d="M247.9,177 C248.18,178.33 249,181.67 249.6,185 C250.2,188.33 250.87,193.25 251.5,197 C252.13,200.75 252.7,204.73 253.4,207.5 C254.1,210.27 254.85,212.13 255.7,213.6 C256.55,215.07 257.53,215.93 258.5,216.3 C259.47,216.67 260.48,216.27 261.5,215.8 C262.52,215.33 263.32,214.33 264.6,213.5 C265.88,212.67 268.43,211.25 269.2,210.8" stroke="#e2474b" stroke-width="1.05" fill="none" stroke-linejoin="round" stroke-linecap="round" />
<path d="M221.9,218.3 C222.8,218.98 225.37,221.32 227.3,222.4 C229.23,223.48 231.83,224.47 233.5,224.8 C235.17,225.13 236.12,224.82 237.3,224.4 C238.48,223.98 239.32,222.87 240.6,222.3 C241.88,221.73 243.53,221.08 245,221 C246.47,220.92 247.77,221.37 249.4,221.8 C251.03,222.23 253,223 254.8,223.6 C256.6,224.2 258.42,224.93 260.2,225.4 C261.98,225.87 263.8,226.2 265.5,226.4 C267.2,226.6 268.73,226.67 270.4,226.6 C272.07,226.53 273.78,226.33 275.5,226 C277.22,225.67 278.78,225.32 280.7,224.6 C282.62,223.88 285.07,222.75 287,221.7 C288.93,220.65 291.42,218.87 292.3,218.3" stroke="#e2474b" stroke-width="1.05" fill="none" stroke-linejoin="round" stroke-linecap="round" />
</g>
<rect x="221.5" y="145.5" width="71.0" height="95.0" fill="none" stroke="#333" stroke-width="0.9"/>
<line x1="221.5" y1="144.5" x2="218.5" y2="144.5" stroke="#333" stroke-width="0.8" />
<text x="215.5" y="147.4" font-size="8" font-family="Liberation Sans, sans-serif" text-anchor="end" font-weight="normal" font-style="normal" fill="#1a1a1a"  stroke="#1a1a1a" stroke-width="0.3" textLength="16.5" lengthAdjust="spacingAndGlyphs">10.0</text>
<line x1="221.5" y1="163" x2="218.5" y2="163" stroke="#333" stroke-width="0.8" />
<text x="215.5" y="165.9" font-size="8" font-family="Liberation Sans, sans-serif" text-anchor="end" font-weight="normal" font-style="normal" fill="#1a1a1a"  stroke="#1a1a1a" stroke-width="0.3" textLength="11.79" lengthAdjust="spacingAndGlyphs">7.5</text>
<line x1="221.5" y1="181.5" x2="218.5" y2="181.5" stroke="#333" stroke-width="0.8" />
<text x="215.5" y="184.4" font-size="8" font-family="Liberation Sans, sans-serif" text-anchor="end" font-weight="normal" font-style="normal" fill="#1a1a1a"  stroke="#1a1a1a" stroke-width="0.3" textLength="11.79" lengthAdjust="spacingAndGlyphs">5.0</text>
<line x1="221.5" y1="200" x2="218.5" y2="200" stroke="#333" stroke-width="0.8" />
<text x="215.5" y="202.9" font-size="8" font-family="Liberation Sans, sans-serif" text-anchor="end" font-weight="normal" font-style="normal" fill="#1a1a1a"  stroke="#1a1a1a" stroke-width="0.3" textLength="11.79" lengthAdjust="spacingAndGlyphs">2.5</text>
<line x1="221.5" y1="218.5" x2="218.5" y2="218.5" stroke="#333" stroke-width="0.8" />
<text x="215.5" y="221.4" font-size="8" font-family="Liberation Sans, sans-serif" text-anchor="end" font-weight="normal" font-style="normal" fill="#1a1a1a"  stroke="#1a1a1a" stroke-width="0.3" textLength="11.79" lengthAdjust="spacingAndGlyphs">0.0</text>
<line x1="221.5" y1="237" x2="218.5" y2="237" stroke="#333" stroke-width="0.8" />
<text x="215.5" y="239.9" font-size="8" font-family="Liberation Sans, sans-serif" text-anchor="end" font-weight="normal" font-style="normal" fill="#1a1a1a"  stroke="#1a1a1a" stroke-width="0.3" textLength="16.74" lengthAdjust="spacingAndGlyphs">−2.5</text>
<line x1="222" y1="240.5" x2="222" y2="243.3" stroke="#333" stroke-width="0.8" />
<text x="222" y="253.3" font-size="7.6" font-family="Liberation Sans, sans-serif" text-anchor="middle" font-weight="normal" font-style="italic" fill="#1a1a1a"  stroke="#1a1a1a" stroke-width="0.3" textLength="5.32" lengthAdjust="spacingAndGlyphs">K</text>
<line x1="245.4" y1="240.5" x2="245.4" y2="243.3" stroke="#333" stroke-width="0.8" />
<text x="245.4" y="253.3" font-size="7.6" font-family="Liberation Sans, sans-serif" text-anchor="middle" font-weight="normal" font-style="italic" fill="#1a1a1a"  stroke="#1a1a1a" stroke-width="0.3" textLength="4.55" lengthAdjust="spacingAndGlyphs">Γ</text>
<line x1="268.8" y1="240.5" x2="268.8" y2="243.3" stroke="#333" stroke-width="0.8" />
<text x="268.8" y="253.3" font-size="7.6" font-family="Liberation Sans, sans-serif" text-anchor="middle" font-weight="normal" font-style="italic" fill="#1a1a1a"  stroke="#1a1a1a" stroke-width="0.3" textLength="6.65" lengthAdjust="spacingAndGlyphs">M</text>
<line x1="292" y1="240.5" x2="292" y2="243.3" stroke="#333" stroke-width="0.8" />
<text x="292" y="253.3" font-size="7.6" font-family="Liberation Sans, sans-serif" text-anchor="middle" font-weight="normal" font-style="italic" fill="#1a1a1a"  stroke="#1a1a1a" stroke-width="0.3" textLength="5.32" lengthAdjust="spacingAndGlyphs">K</text>
<text transform="translate(193.1,194.2) scale(1,1) rotate(-90)" x="0" y="0" font-size="7.2" font-family="Liberation Sans, sans-serif" text-anchor="middle" dominant-baseline="central" font-weight="normal" font-style="normal" fill="#1e1e1e"  stroke="#1e1e1e" stroke-width="0.3" textLength="52.41" lengthAdjust="spacingAndGlyphs">Energy (meV)</text>
<clipPath id="cf"><rect x="350.5" y="144.5" width="71.0" height="86.0"/></clipPath>
<g clip-path="url(#cf)">
<polygon points="374.2,145 376.2,145 376.9,185 377.8,205 378.6,230.6 372.4,230.6 373.0,200 373.8,170" fill="#fbe3e3"/>
<line x1="374.28" y1="146" x2="376.32" y2="146" stroke="#ee9a9a" stroke-width="0.5" />
<line x1="374.24" y1="148" x2="376.37" y2="148" stroke="#ee9a9a" stroke-width="0.5" />
<line x1="374.19" y1="150" x2="376.42" y2="150" stroke="#ee9a9a" stroke-width="0.5" />
<line x1="374.15" y1="152" x2="376.46" y2="152" stroke="#ee9a9a" stroke-width="0.5" />
<line x1="374.11" y1="154" x2="376.51" y2="154" stroke="#ee9a9a" stroke-width="0.5" />
<line x1="374.07" y1="156" x2="376.56" y2="156" stroke="#ee9a9a" stroke-width="0.5" />
<line x1="374.02" y1="158" x2="376.61" y2="158" stroke="#ee9a9a" stroke-width="0.5" />
<line x1="373.98" y1="160" x2="376.65" y2="160" stroke="#ee9a9a" stroke-width="0.5" />
<line x1="373.94" y1="162" x2="376.7" y2="162" stroke="#ee9a9a" stroke-width="0.5" />
<line x1="373.9" y1="164" x2="376.75" y2="164" stroke="#ee9a9a" stroke-width="0.5" />
<line x1="373.86" y1="166" x2="376.79" y2="166" stroke="#ee9a9a" stroke-width="0.5" />
<line x1="373.81" y1="168" x2="376.84" y2="168" stroke="#ee9a9a" stroke-width="0.5" />
<line x1="373.77" y1="170" x2="376.89" y2="170" stroke="#ee9a9a" stroke-width="0.5" />
<line x1="373.73" y1="172" x2="376.94" y2="172" stroke="#ee9a9a" stroke-width="0.5" />
<line x1="373.69" y1="174" x2="376.98" y2="174" stroke="#ee9a9a" stroke-width="0.5" />
<line x1="373.64" y1="176" x2="377.03" y2="176" stroke="#ee9a9a" stroke-width="0.5" />
<line x1="373.6" y1="178" x2="377.08" y2="178" stroke="#ee9a9a" stroke-width="0.5" />
<line x1="373.56" y1="180" x2="377.12" y2="180" stroke="#ee9a9a" stroke-width="0.5" />
<line x1="373.52" y1="182" x2="377.17" y2="182" stroke="#ee9a9a" stroke-width="0.5" />
<line x1="373.47" y1="184" x2="377.22" y2="184" stroke="#ee9a9a" stroke-width="0.5" />
<line x1="373.43" y1="186" x2="377.26" y2="186" stroke="#ee9a9a" stroke-width="0.5" />
<line x1="373.39" y1="188" x2="377.31" y2="188" stroke="#ee9a9a" stroke-width="0.5" />
<line x1="373.35" y1="190" x2="377.36" y2="190" stroke="#ee9a9a" stroke-width="0.5" />
<line x1="373.3" y1="192" x2="377.41" y2="192" stroke="#ee9a9a" stroke-width="0.5" />
<line x1="373.26" y1="194" x2="377.45" y2="194" stroke="#ee9a9a" stroke-width="0.5" />
<line x1="373.22" y1="196" x2="377.5" y2="196" stroke="#ee9a9a" stroke-width="0.5" />
<line x1="373.18" y1="198" x2="377.55" y2="198" stroke="#ee9a9a" stroke-width="0.5" />
<line x1="373.14" y1="200" x2="377.59" y2="200" stroke="#ee9a9a" stroke-width="0.5" />
<line x1="373.09" y1="202" x2="377.64" y2="202" stroke="#ee9a9a" stroke-width="0.5" />
<line x1="373.05" y1="204" x2="377.69" y2="204" stroke="#ee9a9a" stroke-width="0.5" />
<line x1="373.01" y1="206" x2="377.74" y2="206" stroke="#ee9a9a" stroke-width="0.5" />
<line x1="372.97" y1="208" x2="377.78" y2="208" stroke="#ee9a9a" stroke-width="0.5" />
<line x1="372.92" y1="210" x2="377.83" y2="210" stroke="#ee9a9a" stroke-width="0.5" />
<line x1="372.88" y1="212" x2="377.88" y2="212" stroke="#ee9a9a" stroke-width="0.5" />
<line x1="372.84" y1="214" x2="377.92" y2="214" stroke="#ee9a9a" stroke-width="0.5" />
<line x1="372.8" y1="216" x2="377.97" y2="216" stroke="#ee9a9a" stroke-width="0.5" />
<line x1="372.75" y1="218" x2="378.02" y2="218" stroke="#ee9a9a" stroke-width="0.5" />
<line x1="372.71" y1="220" x2="378.06" y2="220" stroke="#ee9a9a" stroke-width="0.5" />
<line x1="372.67" y1="222" x2="378.11" y2="222" stroke="#ee9a9a" stroke-width="0.5" />
<line x1="372.63" y1="224" x2="378.16" y2="224" stroke="#ee9a9a" stroke-width="0.5" />
<line x1="372.58" y1="226" x2="378.21" y2="226" stroke="#ee9a9a" stroke-width="0.5" />
<line x1="372.54" y1="228" x2="378.25" y2="228" stroke="#ee9a9a" stroke-width="0.5" />
<line x1="374.6" y1="145" x2="374.6" y2="230.6" stroke="#5aa6e0" stroke-width="0.9" stroke-dasharray="1,0.8"/>
<line x1="372.5" y1="230.6" x2="374.2" y2="145" stroke="#f08080" stroke-width="0.6" />
<path d="M351,230.2 L355,229.6 L359,228.3 L363,226.8 L366,224.5 L367.3,221 L368.3,218.7 L370.6,217.1 L372.9,217.6 L375,216.5 L377.6,215.2 L379.2,210 L379.9,208.3 L381.3,205.2 L381.9,207.5 L382.7,219.9 L384,221 L385,216.4 L385.9,222.2 L388,221 L390,218.5 L391.5,217.6 L392.8,213 L393.6,202.4 L394.4,212 L395.4,217 L398.3,218.3 L402,219.5 L406.7,220.8 L408.3,223.3 L412,225.5 L415,227.3 L421.3,229.2" stroke="#3d8fd4" stroke-width="1" fill="none" stroke-linejoin="round" stroke-linecap="round" />
<path d="M376,145 C376.1,149.17 376.4,162.83 376.6,170 C376.8,177.17 376.93,183 377.2,188 C377.47,193 377.57,196.23 378.2,200 C378.83,203.77 380.13,206.52 381,210.6 C381.87,214.68 382.62,221.37 383.4,224.5 C384.18,227.63 385.15,228.45 385.7,229.4 C386.25,230.35 386.32,230.93 386.7,230.2 C387.08,229.47 387.53,227.7 388,225 C388.47,222.3 389.1,217.17 389.5,214 C389.9,210.83 390.08,208.9 390.4,206 C390.72,203.1 391.08,197.68 391.4,196.6 C391.72,195.52 392.03,198.43 392.3,199.5 C392.57,200.57 392.35,200.42 393,203 C393.65,205.58 394.9,212 396.2,215 C397.5,218 399.33,219.73 400.8,221 C402.27,222.27 403.47,221.87 405,222.6 C406.53,223.33 408.33,224.63 410,225.4 C411.67,226.17 413.12,226.7 415,227.2 C416.88,227.7 420.25,228.2 421.3,228.4" stroke="#e23a3a" stroke-width="1" fill="none" stroke-linejoin="round" stroke-linecap="round" />
</g>
<rect x="350.5" y="144.5" width="71.0" height="86.0" fill="none" stroke="#333" stroke-width="0.9"/>
<line x1="350.5" y1="230.6" x2="347.5" y2="230.6" stroke="#333" stroke-width="0.8" />
<text x="344.4" y="233.4" font-size="8" font-family="Liberation Sans, sans-serif" text-anchor="end" font-weight="normal" font-style="normal" fill="#1a1a1a"  stroke="#1a1a1a" stroke-width="0.3" textLength="4.67" lengthAdjust="spacingAndGlyphs">0</text>
<line x1="350.5" y1="202.06" x2="347.5" y2="202.06" stroke="#333" stroke-width="0.8" />
<text x="344.4" y="204.86" font-size="8" font-family="Liberation Sans, sans-serif" text-anchor="end" font-weight="normal" font-style="normal" fill="#1a1a1a"  stroke="#1a1a1a" stroke-width="0.3" textLength="4.67" lengthAdjust="spacingAndGlyphs">2</text>
<line x1="350.5" y1="173.52" x2="347.5" y2="173.52" stroke="#333" stroke-width="0.8" />
<text x="344.4" y="176.32" font-size="8" font-family="Liberation Sans, sans-serif" text-anchor="end" font-weight="normal" font-style="normal" fill="#1a1a1a"  stroke="#1a1a1a" stroke-width="0.3" textLength="4.67" lengthAdjust="spacingAndGlyphs">4</text>
<line x1="350.5" y1="144.98" x2="347.5" y2="144.98" stroke="#333" stroke-width="0.8" />
<text x="344.4" y="147.78" font-size="8" font-family="Liberation Sans, sans-serif" text-anchor="end" font-weight="normal" font-style="normal" fill="#1a1a1a"  stroke="#1a1a1a" stroke-width="0.3" textLength="4.67" lengthAdjust="spacingAndGlyphs">6</text>
<line x1="350.5" y1="216.33" x2="348.9" y2="216.33" stroke="#333" stroke-width="0.7" />
<line x1="350.5" y1="187.79" x2="348.9" y2="187.79" stroke="#333" stroke-width="0.7" />
<line x1="350.5" y1="159.25" x2="348.9" y2="159.25" stroke="#333" stroke-width="0.7" />
<line x1="351.75" y1="230.5" x2="351.75" y2="233.5" stroke="#333" stroke-width="0.8" />
<text x="351.75" y="243.7" font-size="8" font-family="Liberation Sans, sans-serif" text-anchor="middle" font-weight="normal" font-style="normal" fill="#1a1a1a"  stroke="#1a1a1a" stroke-width="0.3" textLength="9.58" lengthAdjust="spacingAndGlyphs">−3</text>
<line x1="386.7" y1="230.5" x2="386.7" y2="233.5" stroke="#333" stroke-width="0.8" />
<text x="386.7" y="243.7" font-size="8" font-family="Liberation Sans, sans-serif" text-anchor="middle" font-weight="normal" font-style="normal" fill="#1a1a1a"  stroke="#1a1a1a" stroke-width="0.3" textLength="4.67" lengthAdjust="spacingAndGlyphs">0</text>
<line x1="421.65" y1="230.5" x2="421.65" y2="233.5" stroke="#333" stroke-width="0.8" />
<text x="421.65" y="243.7" font-size="8" font-family="Liberation Sans, sans-serif" text-anchor="middle" font-weight="normal" font-style="normal" fill="#1a1a1a"  stroke="#1a1a1a" stroke-width="0.3" textLength="4.67" lengthAdjust="spacingAndGlyphs">3</text>
<line x1="363.4" y1="230.5" x2="363.4" y2="232.1" stroke="#333" stroke-width="0.7" />
<line x1="375.05" y1="230.5" x2="375.05" y2="232.1" stroke="#333" stroke-width="0.7" />
<line x1="398.35" y1="230.5" x2="398.35" y2="232.1" stroke="#333" stroke-width="0.7" />
<line x1="410" y1="230.5" x2="410" y2="232.1" stroke="#333" stroke-width="0.7" />
<text transform="translate(330.2,184.8) scale(1,1) rotate(-90)" x="0" y="0" font-size="7.3" font-family="Liberation Sans, sans-serif" text-anchor="middle" dominant-baseline="central" font-weight="normal" font-style="normal" fill="#1e1e1e" textLength="47" lengthAdjust="spacingAndGlyphs" stroke="#1e1e1e" stroke-width="0.3">DOS (meV<tspan dy="-2.4" font-size="5.4">−1</tspan><tspan dy="2.4">)</tspan></text>
<text x="386.4" y="254.4" font-size="7.2" font-family="Liberation Sans, sans-serif" text-anchor="middle" font-weight="normal" font-style="normal" fill="#1e1e1e"  stroke="#1e1e1e" stroke-width="0.3" textLength="51.08" lengthAdjust="spacingAndGlyphs">Energy (meV)</text>
<clipPath id="cg"><rect x="484.5" y="144.5" width="77.0" height="79.0"/></clipPath>
<g clip-path="url(#cg)">
<line x1="513.8" y1="192" x2="517" y2="192" stroke="#f0a0a0" stroke-width="0.5" />
<line x1="513.8" y1="194" x2="517" y2="194" stroke="#f0a0a0" stroke-width="0.5" />
<line x1="513.8" y1="196" x2="517" y2="196" stroke="#f0a0a0" stroke-width="0.5" />
<line x1="513.8" y1="198" x2="517" y2="198" stroke="#f0a0a0" stroke-width="0.5" />
<line x1="513.8" y1="200" x2="517" y2="200" stroke="#f0a0a0" stroke-width="0.5" />
<line x1="513.8" y1="202" x2="517" y2="202" stroke="#f0a0a0" stroke-width="0.5" />
<line x1="513.8" y1="204" x2="517" y2="204" stroke="#f0a0a0" stroke-width="0.5" />
<line x1="513.8" y1="206" x2="517" y2="206" stroke="#f0a0a0" stroke-width="0.5" />
<line x1="513.8" y1="208" x2="517" y2="208" stroke="#f0a0a0" stroke-width="0.5" />
<line x1="513.8" y1="210" x2="517" y2="210" stroke="#f0a0a0" stroke-width="0.5" />
<line x1="513.8" y1="212" x2="517" y2="212" stroke="#f0a0a0" stroke-width="0.5" />
<line x1="513.8" y1="214" x2="517" y2="214" stroke="#f0a0a0" stroke-width="0.5" />
<line x1="513.8" y1="216" x2="517" y2="216" stroke="#f0a0a0" stroke-width="0.5" />
<line x1="513.8" y1="218" x2="517" y2="218" stroke="#f0a0a0" stroke-width="0.5" />
<line x1="513.8" y1="220" x2="517" y2="220" stroke="#f0a0a0" stroke-width="0.5" />
<line x1="513.8" y1="222" x2="517" y2="222" stroke="#f0a0a0" stroke-width="0.5" />
<line x1="516.8" y1="145" x2="516.8" y2="224" stroke="#e45858" stroke-width="0.9" stroke-dasharray="1,1"/>
<path d="M485,222.5 L490,220.5 L494,218.5 L497.5,216 L499.5,213 L500.8,209 L501.6,203.3 L502.4,209 L503.8,213.5 L506,216.5 L510,219 L515,221.5 L520,223.2 L523,223.8 L526.5,223.2 L533,221.8 L538.3,220.5 L540.5,217.5 L542.3,213.5 L543.4,207.9 L544.3,212.5 L546,215.5 L549.9,217.5 L556.9,220.7 L561.5,222.6" stroke="#3d8fd4" stroke-width="0.9" fill="none" stroke-linejoin="round" stroke-linecap="round" />
<path d="M485,223 L490,222.2 L496.3,220.7 L500,219.3 L503.3,217.2 L506,214 L507.8,209.5 L508.9,201 L509.5,185 L509.8,169 L510.2,186 L510.9,199 L512,206 L513.6,211.5 L515.5,215.5 L518,219 L520.5,221.8 L523,223.2 L527,222.5 L530,220.7 L531.8,217 L532.8,210 L533.5,193.5 L534.2,206 L535.5,212 L538.3,216.2 L541.5,218.8 L545.2,220.7 L550,221.9 L556.9,222.6 L561.5,223" stroke="#3aa83a" stroke-width="0.9" fill="none" stroke-linejoin="round" stroke-linecap="round" />
<path d="M512.6,223.6 L514.3,220.5 L515,212 L515.4,195 L515.7,155.5 L516,180 L516.6,198 L517.4,205" stroke="#e23a3a" stroke-width="0.9" fill="none" stroke-linejoin="round" stroke-linecap="round" />
<path d="M517.4,205 L519.5,214.9 L523,223.5 L525.3,214.9 L526.5,203.3 L527.5,190.5 L528.8,205.6 L531.2,214.9 L538.3,219.5 L549.9,221.9 L561.5,222.8" stroke="#e23a3a" stroke-width="0.9" fill="none" stroke-linejoin="round" stroke-linecap="round" />
</g>
<rect x="484.5" y="144.5" width="77.0" height="79.0" fill="none" stroke="#333" stroke-width="0.9"/>
<line x1="484.5" y1="224" x2="481.5" y2="224" stroke="#333" stroke-width="0.8" />
<text x="477.3" y="226.9" font-size="8" font-family="Liberation Sans, sans-serif" text-anchor="end" font-weight="normal" font-style="normal" fill="#1a1a1a"  stroke="#1a1a1a" stroke-width="0.3" textLength="4.67" lengthAdjust="spacingAndGlyphs">0</text>
<line x1="484.5" y1="197.66" x2="481.5" y2="197.66" stroke="#333" stroke-width="0.8" />
<text x="477.3" y="200.56" font-size="8" font-family="Liberation Sans, sans-serif" text-anchor="end" font-weight="normal" font-style="normal" fill="#1a1a1a"  stroke="#1a1a1a" stroke-width="0.3" textLength="4.67" lengthAdjust="spacingAndGlyphs">2</text>
<line x1="484.5" y1="171.32" x2="481.5" y2="171.32" stroke="#333" stroke-width="0.8" />
<text x="477.3" y="174.22" font-size="8" font-family="Liberation Sans, sans-serif" text-anchor="end" font-weight="normal" font-style="normal" fill="#1a1a1a"  stroke="#1a1a1a" stroke-width="0.3" textLength="4.67" lengthAdjust="spacingAndGlyphs">4</text>
<line x1="484.5" y1="144.98" x2="481.5" y2="144.98" stroke="#333" stroke-width="0.8" />
<text x="477.3" y="147.88" font-size="8" font-family="Liberation Sans, sans-serif" text-anchor="end" font-weight="normal" font-style="normal" fill="#1a1a1a"  stroke="#1a1a1a" stroke-width="0.3" textLength="4.67" lengthAdjust="spacingAndGlyphs">6</text>
<line x1="484.8" y1="223.5" x2="484.8" y2="226.5" stroke="#333" stroke-width="0.8" />
<text x="484.8" y="238.3" font-size="8" font-family="Liberation Sans, sans-serif" text-anchor="middle" font-weight="normal" font-style="normal" fill="#1a1a1a"  stroke="#1a1a1a" stroke-width="0.3" textLength="9.58" lengthAdjust="spacingAndGlyphs">−5</text>
<line x1="523.3" y1="223.5" x2="523.3" y2="226.5" stroke="#333" stroke-width="0.8" />
<text x="523.3" y="238.3" font-size="8" font-family="Liberation Sans, sans-serif" text-anchor="middle" font-weight="normal" font-style="normal" fill="#1a1a1a"  stroke="#1a1a1a" stroke-width="0.3" textLength="4.67" lengthAdjust="spacingAndGlyphs">0</text>
<line x1="561.8" y1="223.5" x2="561.8" y2="226.5" stroke="#333" stroke-width="0.8" />
<text x="561.8" y="238.3" font-size="8" font-family="Liberation Sans, sans-serif" text-anchor="middle" font-weight="normal" font-style="normal" fill="#1a1a1a"  stroke="#1a1a1a" stroke-width="0.3" textLength="4.67" lengthAdjust="spacingAndGlyphs">5</text>
<line x1="504.05" y1="223.5" x2="504.05" y2="225.1" stroke="#333" stroke-width="0.7" />
<line x1="542.55" y1="223.5" x2="542.55" y2="225.1" stroke="#333" stroke-width="0.7" />
<text transform="translate(460.4,185.6) scale(1,1) rotate(-90)" x="0" y="0" font-size="10.5" font-family="Liberation Sans, sans-serif" text-anchor="middle" dominant-baseline="central" font-weight="normal" font-style="normal" fill="#1a1a1a"  stroke="#1a1a1a" stroke-width="0.3">λ</text>
<text x="502.9" y="250.2" font-size="7.2" font-family="Liberation Sans, sans-serif" text-anchor="start" font-weight="normal" font-style="normal" fill="#1e1e1e" textLength="40.5" lengthAdjust="spacingAndGlyphs" stroke="#1e1e1e" stroke-width="0.3"><tspan font-style="italic">E</tspan><tspan font-style="italic" font-size="5" dy="1.5">F</tspan><tspan dy="-1.5"> (meV)</tspan></text>
<line x1="524.7" y1="151.9" x2="536.3" y2="151.9" stroke="#5aa0dc" stroke-width="1" />
<text x="540.8" y="154" font-size="6.2" font-family="Liberation Serif, serif" text-anchor="start" font-weight="normal" font-style="normal" fill="#111" stroke="#111" stroke-width="0.15">1.16<tspan dx="0.9">°</tspan></text>
<line x1="524.7" y1="159.9" x2="536.3" y2="159.9" stroke="#66bb66" stroke-width="1" />
<text x="540.8" y="162" font-size="6.2" font-family="Liberation Serif, serif" text-anchor="start" font-weight="normal" font-style="normal" fill="#111" stroke="#111" stroke-width="0.15">1.12<tspan dx="0.9">°</tspan></text>
<line x1="524.7" y1="167.9" x2="536.3" y2="167.9" stroke="#ee7777" stroke-width="1" />
<text x="540.8" y="170" font-size="6.2" font-family="Liberation Serif, serif" text-anchor="start" font-weight="normal" font-style="normal" fill="#111" stroke="#111" stroke-width="0.15">1,08<tspan dx="0.9">°</tspan></text>
</svg>
</body></html>
